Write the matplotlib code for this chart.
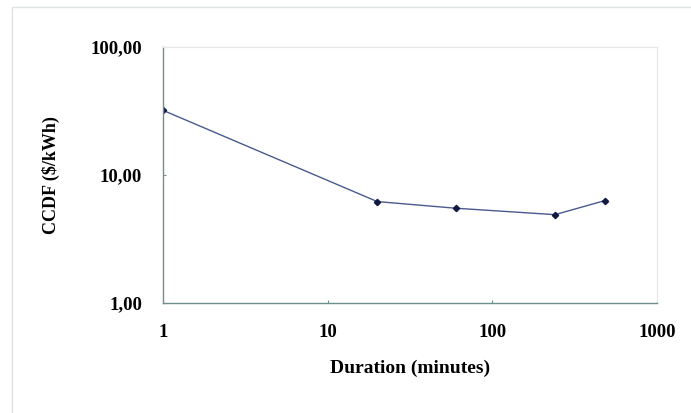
import matplotlib
matplotlib.use("Agg")
import matplotlib.pyplot as plt
from matplotlib.patches import Rectangle

# data (log-log)
duration = [1, 20, 60, 240, 480]
ccdf = [32.0, 6.2, 5.5, 4.9, 6.3]

x_ticks = [1, 10, 100, 1000]
x_tick_labels = ["1", "10", "100", "1000"]
y_ticks = [1, 10, 100]
y_tick_labels = ["1,00", "10,00", "100,00"]

plt.rcParams["font.family"] = ["Liberation Serif", "DejaVu Serif"]

fig = plt.figure(figsize=(6.91, 4.13), dpi=100)
ax = fig.add_axes([163 / 691, 1 - 303 / 413, 494 / 691, 256 / 413])

# faint outer frame of the chart area
fig.patches.append(Rectangle((12 / 691, -0.05), 1.1, 1 - 7 / 413 + 0.05,
                             transform=fig.transFigure, fill=False,
                             edgecolor="#dde3e3", linewidth=1.0))

ax.plot(duration, ccdf, color="#4a5a90", linewidth=1.0,
        marker="D", markersize=3.2, markerfacecolor="#101a40",
        markeredgecolor="#101a40")

ax.set_xscale("log")
ax.set_yscale("log")
ax.set_xlim(1, 1000)
ax.set_ylim(1, 100)
ax.set_xticks(x_ticks)
ax.set_xticklabels(x_tick_labels)
ax.set_yticks(y_ticks)
ax.set_yticklabels(y_tick_labels)
ax.minorticks_off()

for lab in ax.get_xticklabels() + ax.get_yticklabels():
    lab.set_fontweight("bold")
    lab.set_fontsize(13.5)

ax.tick_params(axis="both", direction="in", length=2, color="#6f8f8f",
               width=0.8)
ax.tick_params(axis="x", pad=15)
ax.tick_params(axis="y", pad=15)

for side in ["left", "bottom"]:
    ax.spines[side].set_color("#6f8f8f")
    ax.spines[side].set_linewidth(1.0)
for side in ["top", "right"]:
    ax.spines[side].set_color("#e4e8e8")
    ax.spines[side].set_linewidth(0.8)

ax.set_xlabel("Duration (minutes)", fontsize=14, fontweight="bold")
ax.set_ylabel("CCDF (\\$/kWh)", fontsize=13, fontweight="bold")
ax.xaxis.set_label_coords(0.5, -(360 - 303) / 256)
ax.yaxis.set_label_coords(-(163 - 60) / 494, 0.5)

fig.savefig("out.png", dpi=100)
